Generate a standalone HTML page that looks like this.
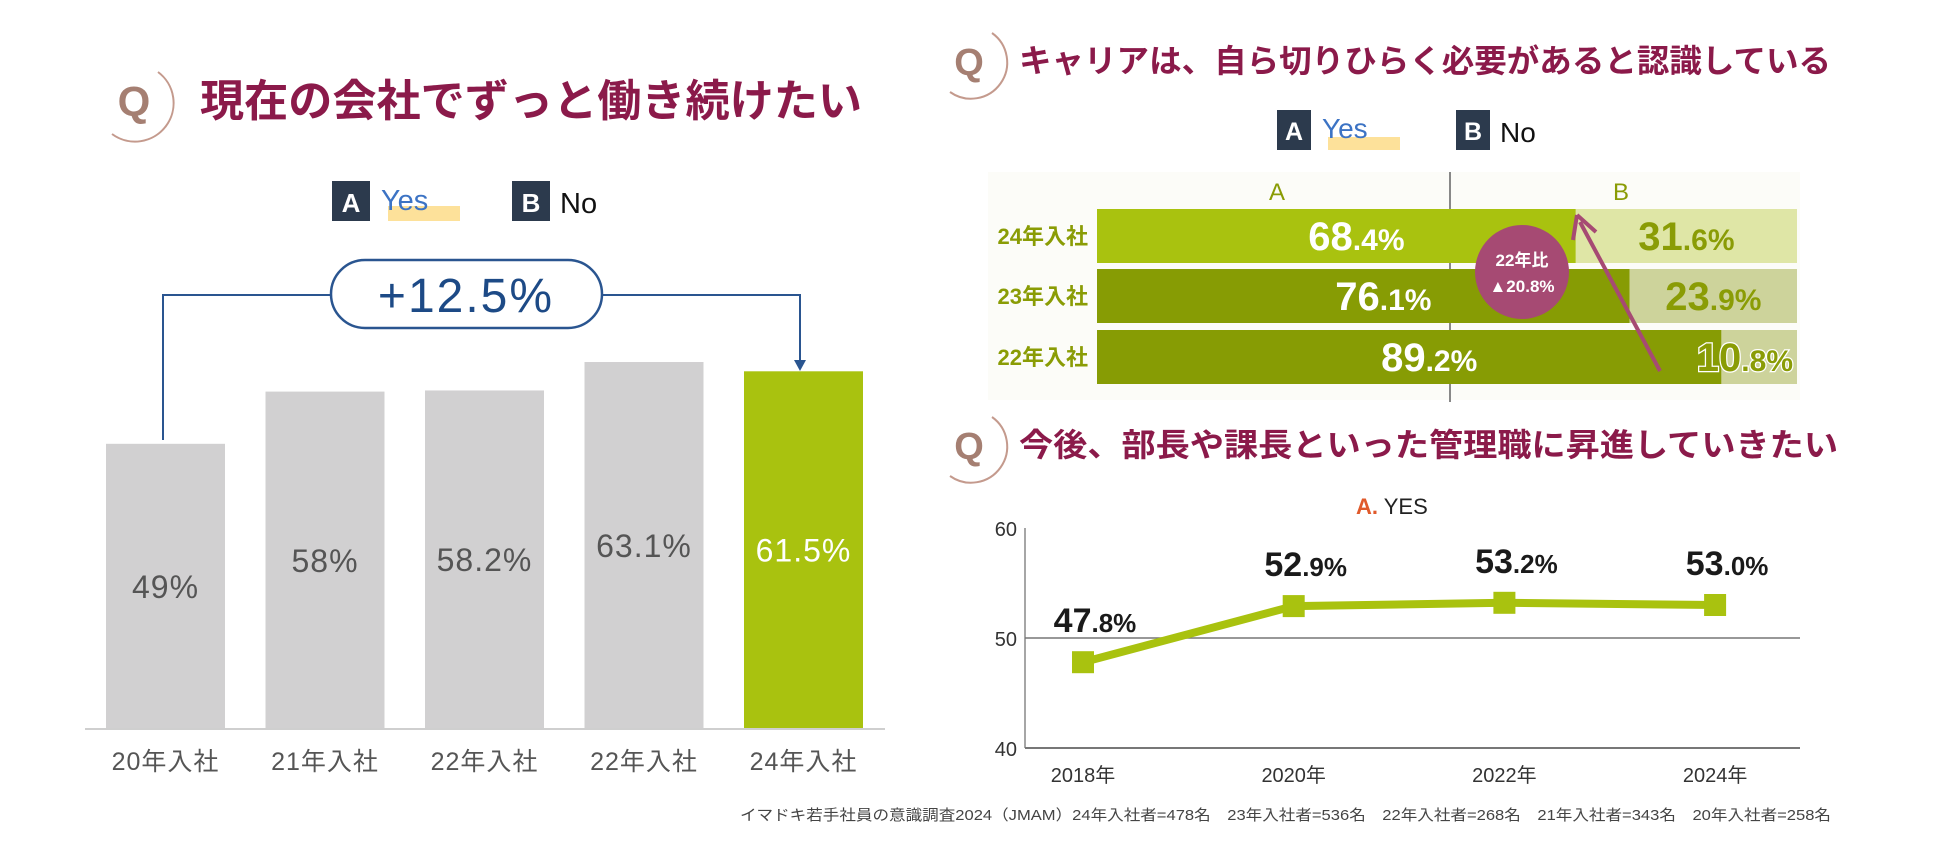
<!DOCTYPE html>
<html><head><meta charset="utf-8"><style>
html,body{margin:0;padding:0;background:#fff;}
svg{display:block;font-family:"Liberation Sans","Noto Sans CJK JP",sans-serif;}
</style></head><body>
<svg id="root" width="1950" height="865" viewBox="0 0 1950 865" xmlns="http://www.w3.org/2000/svg">
<g id="left">
 <g>
  <text x="134" y="116" text-anchor="middle" font-size="42" font-weight="bold" fill="#a57f72">Q</text>
  <path d="M112 134 A34 34 0 0 0 158 72" fill="none" stroke="#c49a8d" stroke-width="2"/>
 </g>
 <text x="200" y="116" font-size="44" font-weight="bold" fill="#8b1a4a" textLength="662" lengthAdjust="spacingAndGlyphs">現在の会社でずっと働き続けたい</text>
 <g>
  <rect x="332" y="181" width="38" height="40" fill="#2c3a4d"/>
  <text x="351" y="212" text-anchor="middle" font-size="26" font-weight="bold" fill="#fff">A</text>
  <rect x="388" y="206" width="72" height="15" fill="#fde19a"/>
  <text x="381" y="210" font-size="29" fill="#3c73c4">Yes</text>
  <rect x="512" y="181" width="38" height="40" fill="#2c3a4d"/>
  <text x="531" y="212" text-anchor="middle" font-size="26" font-weight="bold" fill="#fff">B</text>
  <text x="560" y="213" font-size="29" fill="#111">No</text>
 </g>
 <g>
  <path d="M163 440 V295 H331 M602 295 H800 V362" fill="none" stroke="#2a5590" stroke-width="2"/>
  <path d="M794 360 L806 360 L800 371 Z" fill="#2a5590"/>
  <rect x="331" y="260" width="271" height="68" rx="34" fill="#fff" stroke="#2a5590" stroke-width="2.5"/>
  <text x="466" y="312" text-anchor="middle" font-size="48" fill="#1d4a86" letter-spacing="2">+12.5%</text>
 </g>
 <line x1="85" y1="729" x2="885" y2="729" stroke="#cfcfcf" stroke-width="2"/>
 <g id="barsL"></g>
</g>
<g id="rt">
 <g>
  <text x="969" y="75" text-anchor="middle" font-size="38" font-weight="bold" fill="#a57f72">Q</text>
  <path d="M950 92 A32 32 0 0 0 992 33" fill="none" stroke="#c49a8d" stroke-width="2"/>
 </g>
 <text x="1019" y="72" font-size="32" font-weight="bold" fill="#8b1a4a" textLength="812" lengthAdjust="spacingAndGlyphs">キャリアは、自ら切りひらく必要があると認識している</text>
 <g>
  <rect x="1277" y="110" width="34" height="40" fill="#2c3a4d"/>
  <text x="1294" y="140" text-anchor="middle" font-size="25" font-weight="bold" fill="#fff">A</text>
  <rect x="1328" y="137" width="72" height="13" fill="#fde19a"/>
  <text x="1322" y="138" font-size="28" fill="#3c73c4">Yes</text>
  <rect x="1456" y="110" width="34" height="40" fill="#2c3a4d"/>
  <text x="1473" y="140" text-anchor="middle" font-size="25" font-weight="bold" fill="#fff">B</text>
  <text x="1500" y="142" font-size="28" fill="#111">No</text>
 </g>
 <rect x="988" y="172" width="812" height="228" fill="#fcfcf8"/>
 <text x="1277" y="200" text-anchor="middle" font-size="24" fill="#8a9c05">A</text>
 <text x="1621" y="200" text-anchor="middle" font-size="24" fill="#8a9c05">B</text>
 <line x1="1450" y1="172" x2="1450" y2="402" stroke="#888" stroke-width="2"/>
 <g id="stack"></g>
 <g>
  <line x1="1660" y1="371" x2="1580" y2="222" stroke="#a64a73" stroke-width="4"/>
  <path d="M1577 215 L1573 240 M1577 215 L1596 232" stroke="#a64a73" stroke-width="4" fill="none"/>
  <circle cx="1522" cy="272" r="47" fill="#a64a73"/>
  <text x="1522" y="266" text-anchor="middle" font-size="17" font-weight="bold" fill="#fff">22年比</text>
  <text x="1522" y="292" text-anchor="middle" font-size="17" font-weight="bold" fill="#fff">▲20.8%</text>
 </g>
</g>
<g id="rb">
 <g>
  <text x="969" y="459" text-anchor="middle" font-size="38" font-weight="bold" fill="#a57f72">Q</text>
  <path d="M950 476 A32 32 0 0 0 992 417" fill="none" stroke="#c49a8d" stroke-width="2"/>
 </g>
 <text x="1019" y="456" font-size="32" font-weight="bold" fill="#8b1a4a" textLength="819" lengthAdjust="spacingAndGlyphs">今後、部長や課長といった管理職に昇進していきたい</text>
 <text x="1356" y="514" font-size="22"><tspan fill="#e05a2b" font-weight="bold">A.</tspan><tspan fill="#222"> YES</tspan></text>
 <g id="line"></g>
</g>
<text x="740" y="820" font-size="15" fill="#444" textLength="1091" lengthAdjust="spacingAndGlyphs">イマドキ若手社員の意識調査2024（JMAM）24年入社者=478名　23年入社者=536名　22年入社者=268名　21年入社者=343名　20年入社者=258名</text>
</svg>
<script>
const NS="http://www.w3.org/2000/svg";
// left bar chart
const barCats=["20年入社","21年入社","22年入社","22年入社","24年入社"];
const barVals=[49,58,58.2,63.1,61.5];
const barLabels=["49%","58%","58.2%","63.1%","61.5%"];
// stacked bar chart
const stackCats=["24年入社","23年入社","22年入社"];
const stackA=[68.4,76.1,89.2];
const stackB=[31.6,23.9,10.8];
// line chart
const lineCats=["2018年","2020年","2022年","2024年"];
const lineVals=[47.8,52.9,53.2,53.0];
const yTicks=[40,50,60];

function mk(tag,attrs,parent,txt){const e=document.createElementNS(NS,tag);for(const k in attrs)e.setAttribute(k,attrs[k]);if(txt!==undefined)e.textContent=txt;parent.appendChild(e);return e;}

// ---- left bars
const gL=document.getElementById('barsL');
const base=728, unit=5.8, bx0=106, pitch=159.5, bw=119;
const xL=i=>bx0+i*pitch, hL=v=>v*unit;
barVals.forEach((v,i)=>{
  const last=i===barVals.length-1;
  const r=mk('rect',{x:xL(i),y:base-hL(v),width:bw,height:hL(v),fill:last?'#a9c20f':'#d1d0d1'},gL);
  
  
  const t=mk('text',{x:xL(i)+bw/2,y:base-hL(v)/2+12,'text-anchor':'middle','font-size':32,fill:last?'#fff':'#555','letter-spacing':1},gL,barLabels[i]);
  
  
  const c=mk('text',{x:xL(i)+bw/2,y:770,'text-anchor':'middle','font-size':25,fill:'#555','letter-spacing':1},gL,barCats[i]);
  
  
});

// ---- stacked bars
const gS=document.getElementById('stack');
const sx0=1097, sW=700, rowY=[209,269,330], rh=54;
const sx=p=>sx0+p/100*sW;
stackCats.forEach((c,i)=>{
  const y=rowY[i], first=i===0;
  const aEnd=sx(stackA[i]), bEnd=sx(stackA[i]+stackB[i]);
  const ra=mk('rect',{x:sx0,y:y,width:aEnd-sx0,height:rh,fill:first?'#a9c20f':'#879c04'},gS);
  
  
  const rb=mk('rect',{x:aEnd,y:y,width:bEnd-aEnd,height:rh,fill:first?'#dfe6a6':'#cdd39b'},gS);
  
  
  const lab=mk('text',{x:1088,y:y+rh/2+8,'text-anchor':'end','font-size':22,'font-weight':'bold',fill:'#8a9c05'},gS,c);
  
  
  const sa=String(stackA[i].toFixed(1)).split('.');
  const ta=mk('text',{x:(sx0+aEnd)/2+20,y:y+rh/2+14,'text-anchor':'middle','font-weight':'bold',fill:'#fff'},gS);
  mk('tspan',{'font-size':40},ta,sa[0]);mk('tspan',{'font-size':30},ta,'.'+sa[1]+'%');
  
  
  const sb=String(stackB[i].toFixed(1)).split('.');
  const narrow=(bEnd-aEnd)<130;
  const attrs={x:narrow?bEnd-4:(aEnd+bEnd)/2,y:y+rh/2+14,'text-anchor':narrow?'end':'middle','font-weight':'bold',fill:'#8a9c05'};
  if(narrow){attrs.stroke='#fff';attrs['stroke-width']=2.5;attrs['paint-order']='stroke';}
  const tb=mk('text',attrs,gS);
  mk('tspan',{'font-size':40},tb,sb[0]);mk('tspan',{'font-size':30},tb,'.'+sb[1]+'%');
  
  
});

// ---- line chart
const gLn=document.getElementById('line');
const px0=1025, px1=1800, yTop=528, yBot=748, ymin=40, ymax=60;
const ly=v=>yBot-(v-ymin)/(ymax-ymin)*(yBot-yTop);
const lx=i=>1083+i*210.7;
mk('line',{x1:px0,y1:yTop,x2:px0,y2:yBot,stroke:'#888','stroke-width':1.5},gLn);
yTicks.forEach(t=>{
  if(t>ymin && t<ymax){const g=mk('line',{x1:px0,y1:ly(t),x2:px1,y2:ly(t),stroke:'#777','stroke-width':1.5},gLn);}
  const tt=mk('text',{x:px0-8,y:ly(t)+8,'text-anchor':'end','font-size':20,fill:'#333'},gLn,String(t));
  
  
});
const ax=mk('line',{x1:px0,y1:yBot,x2:px1,y2:yBot,stroke:'#777','stroke-width':2},gLn);


const pl=mk('polyline',{points:lineVals.map((v,i)=>lx(i)+','+ly(v)).join(' '),fill:'none',stroke:'#a9c20f','stroke-width':8},gLn);


lineVals.forEach((v,i)=>{
  const m=mk('rect',{x:lx(i)-11,y:ly(v)-11,width:22,height:22,fill:'#a9c20f'},gLn);
  
  
  const s=v.toFixed(1).split('.');
  const t=mk('text',{x:lx(i)+12,y:ly(v)-30,'text-anchor':'middle','font-weight':'bold',fill:'#1a1a1a'},gLn);
  mk('tspan',{'font-size':34},t,s[0]);mk('tspan',{'font-size':26},t,'.'+s[1]+'%');
  
  
  const c=mk('text',{x:lx(i),y:782,'text-anchor':'middle','font-size':20,fill:'#333'},gLn,lineCats[i]);
  
  
});
</script>
</body></html>
